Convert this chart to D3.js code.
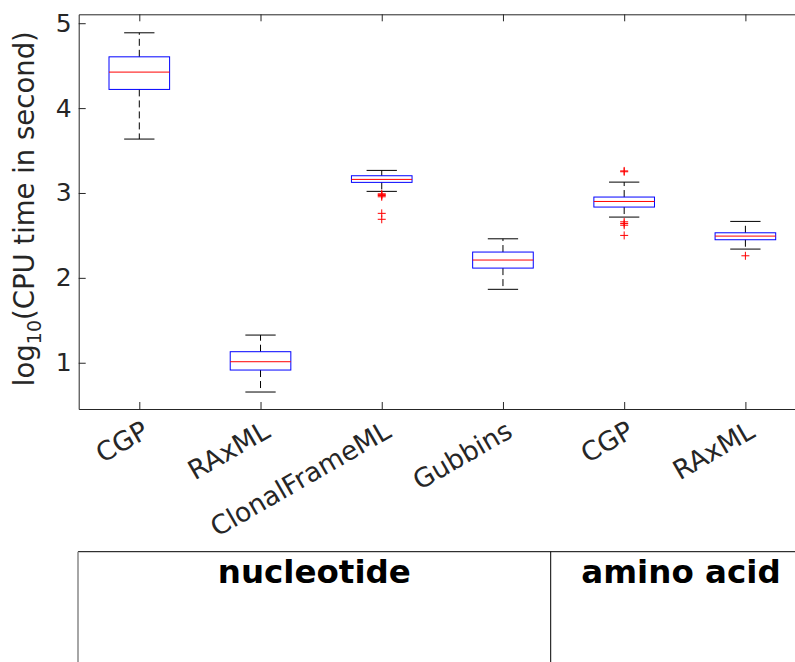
<!DOCTYPE html>
<html>
<head>
<meta charset="utf-8">
<script src="https://cdn.jsdelivr.net/npm/d3@7"></script>
<style>
  body { margin: 0; background: #fff; }
  text { font-family: "DejaVu Sans", sans-serif; }
</style>
</head>
<body>
<script>
// values (log10 seconds)
const methods = ["CGP", "RAxML", "ClonalFrameML", "Gubbins", "CGP", "RAxML"];
const whiskerLow  = [3.635, 0.655, 3.019, 1.865, 2.716, 2.339];
const q1          = [4.220, 0.914, 3.125, 2.115, 2.834, 2.449];
const medians     = [4.424, 1.012, 3.160, 2.210, 2.900, 2.492];
const q3          = [4.604, 1.130, 3.203, 2.304, 2.952, 2.531];
const whiskerHigh = [4.887, 1.326, 3.266, 2.460, 3.128, 2.665];
const outliers = [
  [],
  [],
  [2.99, 2.98, 2.97, 2.955, 2.76, 2.69],
  [],
  [3.26, 3.25, 2.66, 2.64, 2.62, 2.50],
  [2.26]
];
const yTicks = [1, 2, 3, 4, 5];
const groups = ["nucleotide", "amino acid"];

const W = 795, H = 662;
const mLeft = 78.7, mRight = 806, mTop = 14.3, mBottom = 409;
const ink = "#262626";
// table under the plot (pixel layout)
const tableEdges = [78, 550.7, 811.3];
const tableTop = 551.7;

const svg = d3.select("body").append("svg")
    .attr("width", W)
    .attr("height", H);

const x = d3.scaleLinear().domain([0.5, 6.5]).range([mLeft, mRight]);
const y = d3.scaleLinear().domain([0.455, 5.105]).range([mBottom, mTop]);

const boxW = 0.25, capW = 0.125;

const data = methods.map((m, i) => ({
  i: i + 1, lo: whiskerLow[i], q1: q1[i], med: medians[i], q3: q3[i], hi: whiskerHigh[i], out: outliers[i]
}));

// axes
const xAxis = svg.append("g")
    .attr("transform", "translate(0," + mBottom + ")")
    .call(d3.axisBottom(x).tickValues([1, 2, 3, 4, 5, 6])
      .tickFormat(d => methods[d - 1]).tickSizeInner(-7).tickSizeOuter(0));

svg.append("g")
    .attr("transform", "translate(0," + mTop + ")")
    .call(d3.axisTop(x).tickValues([1, 2, 3, 4, 5, 6]).tickFormat("").tickSizeInner(-7).tickSizeOuter(0));

const yAxis = svg.append("g")
    .attr("transform", "translate(" + mLeft + ",0)")
    .call(d3.axisLeft(y).tickValues(yTicks).tickFormat(d3.format("d"))
      .tickSizeInner(-7).tickSizeOuter(0).tickPadding(7));

svg.selectAll(".domain").attr("stroke", ink);
svg.selectAll(".tick line").attr("stroke", ink);
svg.selectAll(".tick text").attr("fill", ink);
yAxis.selectAll("text").style("font-size", "25px");
xAxis.selectAll("text")
    .style("font-size", "26.5px")
    .attr("y", 0).attr("dy", "0.35em")
    .attr("text-anchor", "end")
    .attr("transform", "translate(6,19) rotate(-30)");

// y label
svg.append("text")
    .attr("transform", "translate(34," + ((mTop + mBottom) / 2 - 3) + ") rotate(-90)")
    .attr("text-anchor", "middle")
    .attr("fill", ink)
    .style("font-size", "27.5px")
    .html('log<tspan dy="7" font-size="19">10</tspan><tspan dy="-7">(CPU time in second)</tspan>');

// boxes
const b = svg.append("g").selectAll("g").data(data).enter().append("g");

b.append("line") // upper whisker
    .attr("x1", d => x(d.i)).attr("x2", d => x(d.i))
    .attr("y1", d => y(d.q3)).attr("y2", d => y(d.hi))
    .attr("stroke", "#000").attr("stroke-dasharray", "7,4");
b.append("line") // lower whisker
    .attr("x1", d => x(d.i)).attr("x2", d => x(d.i))
    .attr("y1", d => y(d.q1)).attr("y2", d => y(d.lo))
    .attr("stroke", "#000").attr("stroke-dasharray", "7,4");
b.append("line")
    .attr("x1", d => x(d.i - capW)).attr("x2", d => x(d.i + capW))
    .attr("y1", d => y(d.hi)).attr("y2", d => y(d.hi))
    .attr("stroke", "#000");
b.append("line")
    .attr("x1", d => x(d.i - capW)).attr("x2", d => x(d.i + capW))
    .attr("y1", d => y(d.lo)).attr("y2", d => y(d.lo))
    .attr("stroke", "#000");
b.append("rect")
    .attr("x", d => x(d.i - boxW)).attr("width", d => x(d.i + boxW) - x(d.i - boxW))
    .attr("y", d => y(d.q3)).attr("height", d => y(d.q1) - y(d.q3))
    .attr("fill", "none").attr("stroke", "#0000ff");
b.append("line")
    .attr("x1", d => x(d.i - boxW)).attr("x2", d => x(d.i + boxW))
    .attr("y1", d => y(d.med)).attr("y2", d => y(d.med))
    .attr("stroke", "#ff0000");

b.selectAll("path")
    .data(d => d.out.map(v => [d.i, v]))
    .enter().append("path")
    .attr("d", p => {
      const cx = x(p[0]), cy = y(p[1]), r = 4;
      return `M${cx - r},${cy}H${cx + r}M${cx},${cy - r}V${cy + r}`;
    })
    .attr("stroke", "#ff0000");

// group table
svg.append("line")
    .attr("x1", tableEdges[0]).attr("x2", W)
    .attr("y1", tableTop).attr("y2", tableTop)
    .attr("stroke", "#000");
svg.append("line")
    .attr("x1", tableEdges[0]).attr("x2", tableEdges[0])
    .attr("y1", tableTop).attr("y2", H)
    .attr("stroke", "#888").attr("stroke-width", 1.5);
svg.append("line")
    .attr("x1", tableEdges[1]).attr("x2", tableEdges[1])
    .attr("y1", tableTop).attr("y2", H)
    .attr("stroke", "#000");

svg.selectAll("text.group")
    .data(groups)
    .enter().append("text")
    .attr("class", "group")
    .attr("x", (d, i) => (tableEdges[i] + tableEdges[i + 1]) / 2)
    .attr("y", 583)
    .attr("text-anchor", "middle")
    .style("font-size", "32.5px")
    .style("font-weight", "bold")
    .attr("fill", "#000")
    .text(d => d);
</script>
</body>
</html>
